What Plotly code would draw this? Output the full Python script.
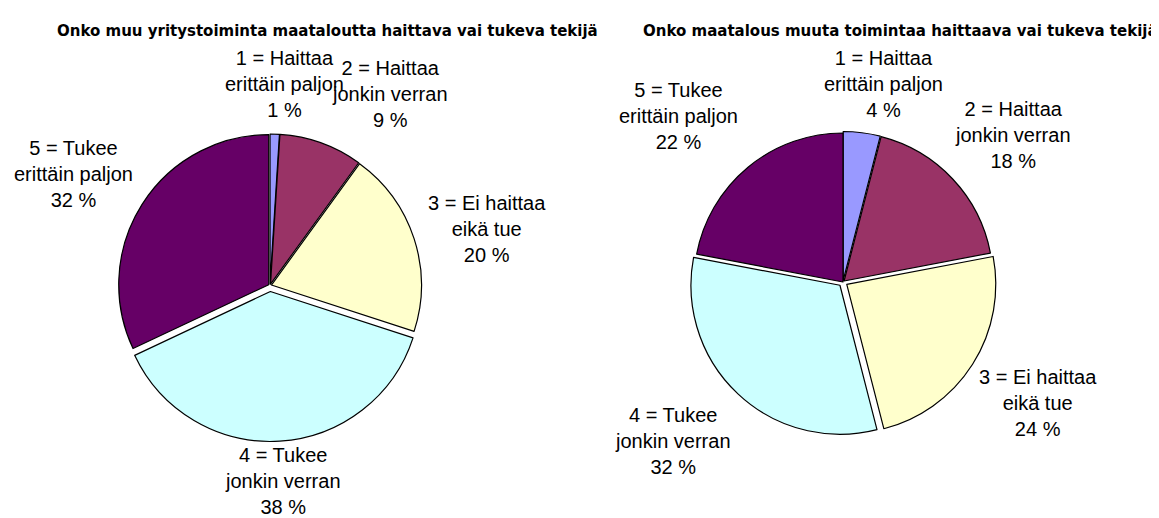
import math
import plotly.graph_objects as go

categories = [
    "1 = Haittaa<br>erittäin paljon",
    "2 = Haittaa<br>jonkin verran",
    "3 = Ei haittaa<br>eikä tue",
    "4 = Tukee<br>jonkin verran",
    "5 = Tukee<br>erittäin paljon",
]
left_values = [1, 9, 20, 38, 32]
right_values = [4, 18, 24, 32, 22]
left_title = "Onko muu yritystoiminta maataloutta haittava vai tukeva tekijä"
right_title = "Onko maatalous muuta toimintaa haittaava vai tukeva tekijä"

colors = ["#9999FF", "#993366", "#FFFFCC", "#CCFFFF", "#660066"]

# window is 1159x518; the page body has an 8px default margin
OX, OY = 8, 8
W, H = 1159 - OX, 518 - OY


def px(x):
    return (x - OX) / W


def py(y):
    return 1 - (y - OY) / H


# layout / style (window pixels)
pies = [
    dict(values=left_values, title=left_title, cx=270, cy=285.5, r=150,
         pull=[0.01, 0.01, 0.01, 0.04, 0.01],
         nudge=[(8, -3), (47, 10), (1, 14), (0, -9), (-3, 11)],
         title_x=327),
    dict(values=right_values, title=right_title, cx=843, cy=282, r=149,
         pull=[0.01, 0.01, 0.03, 0.03, 0.0],
         nudge=[(15, 3), (5, 8), (0, -3), (-13, -8), (-22, 6)],
         title_x=900),
]
LABEL_GAP = 6
LABEL_HALF_W, LABEL_HALF_H = 60, 39
label_font = dict(family="Liberation Sans, Arial, sans-serif", size=20, color="black")
title_font = dict(family="DejaVu Sans, Liberation Sans, Arial", size=15, color="black")

fig = go.Figure()
for p in pies:
    mp = max(p["pull"])
    half = p["r"] * (1 + mp)
    dom = dict(x=[px(p["cx"] - half), px(p["cx"] + half)],
               y=[py(p["cy"] + half), py(p["cy"] - half)])
    fig.add_trace(go.Pie(
        labels=categories,
        values=p["values"],
        sort=False,
        direction="clockwise",
        rotation=0,
        pull=p["pull"],
        marker=dict(colors=colors, line=dict(color="black", width=1.2)),
        textinfo="none",
        domain=dom,
        showlegend=False,
        hoverinfo="label+percent",
    ))

    total = sum(p["values"])
    cum = 0
    for i, v in enumerate(p["values"]):
        mid = (cum + v / 2) / total * 2 * math.pi
        cum += v
        s, c = math.sin(mid), math.cos(mid)
        support = abs(s) * LABEL_HALF_W + abs(c) * LABEL_HALF_H
        d = p["r"] * (1 + p["pull"][i]) + LABEL_GAP + support
        lx = p["cx"] + d * s + p["nudge"][i][0]
        ly = p["cy"] - d * c + p["nudge"][i][1]
        fig.add_annotation(
            text=f"{categories[i]}<br>{v} %",
            x=px(lx), y=py(ly), xref="paper", yref="paper",
            xanchor="center", yanchor="middle", align="center",
            showarrow=False, font=label_font,
        )

    fig.add_annotation(text="<b>" + p["title"] + "</b>",
                       x=px(p["title_x"]), y=py(31),
                       xref="paper", yref="paper", xanchor="center", yanchor="middle",
                       showarrow=False, font=title_font)

fig.update_layout(
    width=W, height=H,
    margin=dict(l=0, r=0, t=0, b=0, autoexpand=False),
    paper_bgcolor="white", plot_bgcolor="white",
)
fig.write_html("out.html")
